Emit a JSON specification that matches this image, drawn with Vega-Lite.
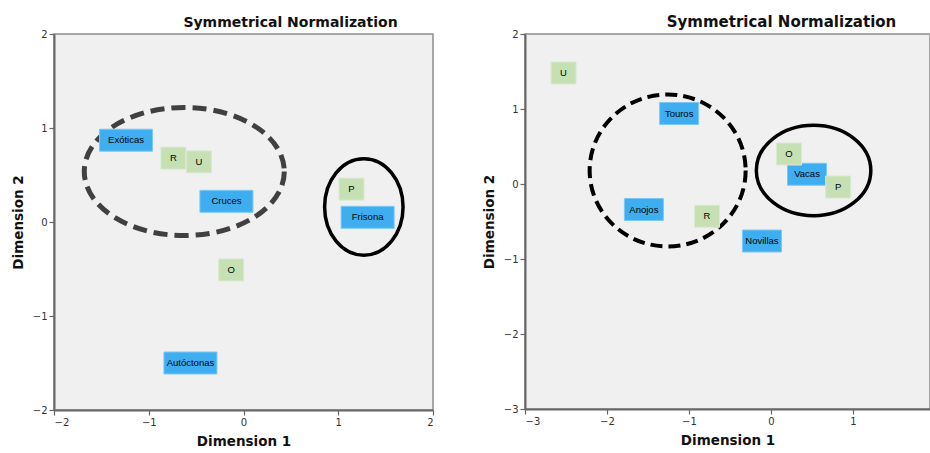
{
  "$schema": "https://vega.github.io/schema/vega-lite/v6.json",
  "padding": {"left": 10, "top": 14, "right": 0, "bottom": 5},
  "spacing": 46,
  "datasets": {
    "left": [
      {"label": "Exóticas", "kind": "col", "x": -1.24, "y": 0.87},
      {"label": "R", "kind": "row", "x": -0.74, "y": 0.68},
      {"label": "U", "kind": "row", "x": -0.47, "y": 0.64},
      {"label": "Cruces", "kind": "col", "x": -0.18, "y": 0.22},
      {"label": "P", "kind": "row", "x": 1.14, "y": 0.35},
      {"label": "Frisona", "kind": "col", "x": 1.31, "y": 0.05},
      {"label": "O", "kind": "row", "x": -0.13, "y": -0.51},
      {"label": "Autóctonas", "kind": "col", "x": -0.56, "y": -1.5}
    ],
    "leftGroups": [
      {"group": "dashed", "x": -0.625, "y": 0.537},
      {"group": "solid", "x": 1.27, "y": 0.16}
    ],
    "right": [
      {"label": "U", "kind": "row", "x": -2.53, "y": 1.48},
      {"label": "Touros", "kind": "col", "x": -1.12, "y": 0.94},
      {"label": "O", "kind": "row", "x": 0.22, "y": 0.4},
      {"label": "Vacas", "kind": "col", "x": 0.44, "y": 0.13},
      {"label": "P", "kind": "row", "x": 0.82, "y": -0.04},
      {"label": "Anojos", "kind": "col", "x": -1.55, "y": -0.34},
      {"label": "R", "kind": "row", "x": -0.78, "y": -0.43},
      {"label": "Novillas", "kind": "col", "x": -0.11, "y": -0.76}
    ],
    "rightGroups": [
      {"group": "dashed", "x": -1.26, "y": 0.18},
      {"group": "solid", "x": 0.52, "y": 0.18}
    ]
  },
  "hconcat": [
    {
      "width": 379,
      "height": 376,
      "title": {"text": "Symmetrical Normalization", "dx": 47},
      "encoding": {
        "x": {"field": "x", "type": "quantitative", "title": "Dimension 1",
              "scale": {"domain": [-2, 2], "nice": false, "zero": false},
              "axis": {"values": [-2, -1, 0, 1, 2]}},
        "y": {"field": "y", "type": "quantitative", "title": "Dimension 2",
              "scale": {"domain": [-2, 2], "nice": false, "zero": false},
              "axis": {"values": [-2, -1, 0, 1, 2]}}
      },
      "layer": [
        {
          "data": {"name": "leftGroups"},
          "transform": [{"filter": "datum.group === 'dashed'"}],
          "mark": {"type": "point", "filled": false, "opacity": 1, "stroke": "#404040", "strokeWidth": 5, "strokeDash": [14, 7], "size": 40000,
                   "shape": "M1,0C1,0.354 0.552,0.64 0,0.64C-0.552,0.64 -1,0.354 -1,0C-1,-0.354 -0.552,-0.64 0,-0.64C0.552,-0.64 1,-0.354 1,0Z"}
        },
        {
          "data": {"name": "leftGroups"},
          "transform": [{"filter": "datum.group === 'solid'"}],
          "mark": {"type": "point", "filled": false, "opacity": 1, "stroke": "#000000", "strokeWidth": 3.5, "size": 9312,
                   "shape": "M0.813,0C0.813,0.552 0.449,1 0,1C-0.449,1 -0.813,0.552 -0.813,0C-0.813,-0.552 -0.449,-1 0,-1C0.449,-1 0.813,-0.552 0.813,0Z"}
        },
        {
          "data": {"name": "left"},
          "transform": [{"filter": "datum.kind === 'col'"}],
          "mark": {"type": "point", "filled": true, "opacity": 1, "fill": "#3eaef0", "stroke": "#7cc8f4", "strokeWidth": 1, "size": 2809,
                   "shape": "M-1,-0.415L1,-0.415L1,0.415L-1,0.415Z"}
        },
        {
          "data": {"name": "left"},
          "transform": [{"filter": "datum.kind === 'row'"}],
          "mark": {"type": "point", "filled": true, "opacity": 1, "fill": "#c6e0b4", "stroke": "#d8ead0", "strokeWidth": 1, "size": 625,
                   "shape": "M-1,-0.88L1,-0.88L1,0.88L-1,0.88Z"}
        },
        {
          "data": {"name": "left"},
          "mark": {"type": "text", "font": "Liberation Sans", "fontSize": 9.5, "color": "#000000", "align": "center", "baseline": "middle"},
          "encoding": {"text": {"field": "label"}}
        }
      ]
    },
    {
      "width": 405,
      "height": 375,
      "title": {"text": "Symmetrical Normalization", "dx": 54, "fontSize": 15},
      "encoding": {
        "x": {"field": "x", "type": "quantitative", "title": "Dimension 1",
              "scale": {"domain": [-3, 1.94], "nice": false, "zero": false},
              "axis": {"values": [-3, -2, -1, 0, 1]}},
        "y": {"field": "y", "type": "quantitative", "title": "Dimension 2",
              "scale": {"domain": [-3, 2], "nice": false, "zero": false},
              "axis": {"values": [-3, -2, -1, 0, 1, 2]}}
      },
      "layer": [
        {
          "data": {"name": "rightGroups"},
          "transform": [{"filter": "datum.group === 'dashed'"}],
          "mark": {"type": "point", "filled": false, "opacity": 1, "stroke": "#000000", "strokeWidth": 4, "strokeDash": [12, 6], "size": 24336,
                   "shape": "M1,0C1,0.538 0.552,0.974 0,0.974C-0.552,0.974 -1,0.538 -1,0C-1,-0.538 -0.552,-0.974 0,-0.974C0.552,-0.974 1,-0.538 1,0Z"}
        },
        {
          "data": {"name": "rightGroups"},
          "transform": [{"filter": "datum.group === 'solid'"}],
          "mark": {"type": "point", "filled": false, "opacity": 1, "stroke": "#000000", "strokeWidth": 3.5, "size": 13110,
                   "shape": "M1,0C1,0.436 0.552,0.79 0,0.79C-0.552,0.79 -1,0.436 -1,0C-1,-0.436 -0.552,-0.79 0,-0.79C0.552,-0.79 1,-0.436 1,0Z"}
        },
        {
          "data": {"name": "right"},
          "transform": [{"filter": "datum.kind === 'col'"}],
          "mark": {"type": "point", "filled": true, "opacity": 1, "fill": "#3eaef0", "stroke": "#7cc8f4", "strokeWidth": 1, "size": 1521,
                   "shape": "M-1,-0.564L1,-0.564L1,0.564L-1,0.564Z"}
        },
        {
          "data": {"name": "right"},
          "transform": [{"filter": "datum.kind === 'row'"}],
          "mark": {"type": "point", "filled": true, "opacity": 1, "fill": "#c6e0b4", "stroke": "#d8ead0", "strokeWidth": 1, "size": 625,
                   "shape": "M-1,-0.88L1,-0.88L1,0.88L-1,0.88Z"}
        },
        {
          "data": {"name": "right"},
          "mark": {"type": "text", "font": "Liberation Sans", "fontSize": 9.5, "color": "#000000", "align": "center", "baseline": "middle"},
          "encoding": {"text": {"field": "label"}}
        }
      ]
    }
  ],
  "config": {
    "background": "#ffffff",
    "view": {"fill": "#f0f0f0", "stroke": "#8c8c8c", "strokeWidth": 1.5},
    "title": {"font": "DejaVu Sans", "fontSize": 14, "fontWeight": "bold", "color": "#111111", "anchor": "middle", "offset": -1},
    "axis": {
      "grid": false,
      "domainColor": "#666666", "domainWidth": 2,
      "tickColor": "#666666", "tickSize": 5, "tickWidth": 1.2,
      "labelFont": "DejaVu Sans", "labelFontSize": 10, "labelColor": "#333333", "labelPadding": 2,
      "titleFont": "DejaVu Sans", "titleFontSize": 13.5, "titleFontWeight": "bold", "titleColor": "#111111", "titlePadding": 7
    }
  }
}
